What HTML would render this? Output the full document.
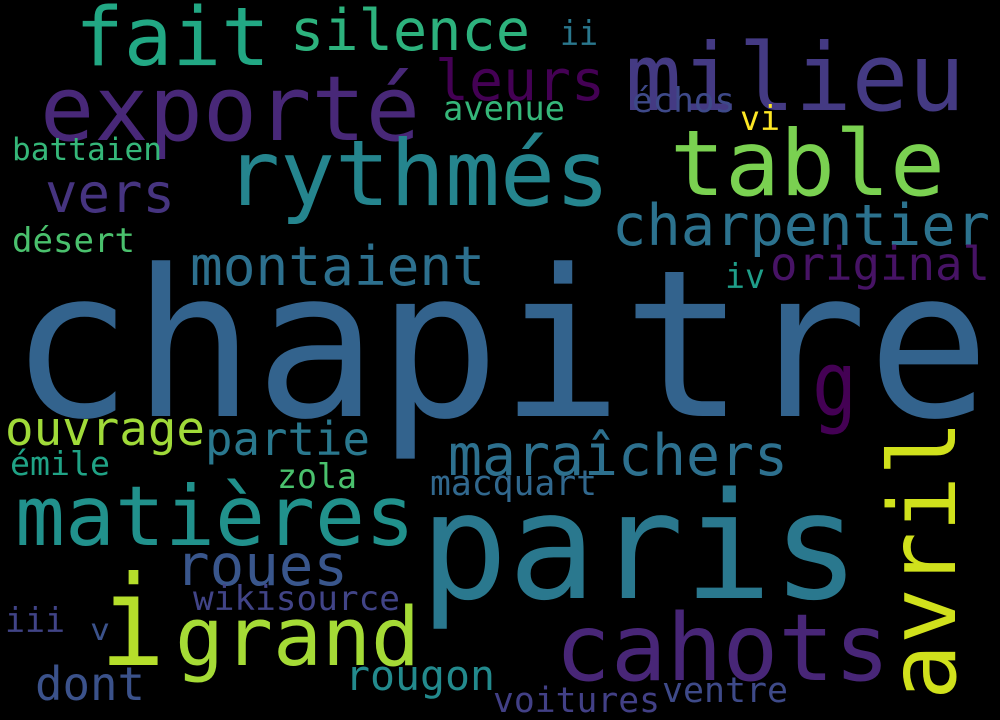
<!DOCTYPE html>
<html><head><meta charset="utf-8"><style>
html,body{margin:0;padding:0;background:#000;}
svg{display:block;}
text{font-family:"DejaVu Sans Mono","Liberation Mono",monospace;}
</style></head><body>
<svg id="cloud" width="1000" height="720" viewBox="0 0 1000 720">
<rect width="1000" height="720" fill="#000"/>
</svg>
<script>
const words = ["chapitre","paris","exporté","milieu","fait","silence","leurs","rythmés","table","vers","charpentier","montaient","original","désert","iv","vi","ii","avenue","échos","battaien","g","ouvrage","partie","maraîchers","émile","zola","matières","macquart","roues","wikisource","grand","i","cahots","iii","v","dont","rougon","voitures","ventre","avril"];
const xs = [10,420,40,625,75,290,435,225,670,45,612,190,770,12,725,740,560,443,632,12,812,5,205,448,10,277,15,430,175,193,175,100,555,5,90,35,345,493,662,955];
const ys = [416,598,140,110,65,50,100,205,195,212,245,285,280,252,288,130,45,120,112,160,415,445,455,475,475,488,545,495,585,610,665,665,680,632,640,700,690,712,702,700];
const sizes = [205,148,90,94,81,57,56,91,91,54,57,54,46,34,34,34,34,34,34,31,90,47,46,57,33,34,83,35,57,34,81,125,93,34,30,46,42,35,35,93];
const widths = [980,440,380,340,195,240,170,385,275,130,378,295,220,123,40,40,38,122,103,150,45,200,165,340,100,80,400,167,173,207,245,65,335,60,20,110,150,167,126,280];
const colors = ["#33638d","#2a788e","#482878","#443a83","#22a884","#2db27d","#440154","#25858e","#7ad151","#463480","#2c728e","#2d708e","#471365","#4ac16d","#1f9e89","#fde725","#2a788e","#35b779","#3e4989","#35b779","#440154","#a0da39","#2a788e","#2d708e","#20a386","#4ac16d","#21918c","#31688e","#39568c","#414487","#a5db36","#b5de2b","#482677","#414487","#3b528b","#3b528b","#238a8d","#424086","#3e4a89","#d0e11c"];
const rotated = [false,false,false,false,false,false,false,false,false,false,false,false,false,false,false,false,false,false,false,false,false,false,false,false,false,false,false,false,false,false,false,false,false,false,false,false,false,false,false,true];
const svg = document.getElementById('cloud');
words.forEach((w,i)=>{
  const t = document.createElementNS('http://www.w3.org/2000/svg','text');
  
  
  t.setAttribute('x', xs[i]);
  t.setAttribute('y', ys[i]);
  t.setAttribute('font-size', sizes[i]);
  t.setAttribute('fill', colors[i]);
  t.setAttribute('textLength', widths[i]);
  t.setAttribute('lengthAdjust', 'spacingAndGlyphs');
  if (rotated[i]) {
    t.setAttribute('x', 0); t.setAttribute('y', 0);
    t.setAttribute('transform', 'translate(' + xs[i] + ',' + ys[i] + ') rotate(-90)');
  }
  t.textContent = w;
  svg.appendChild(t);
});
</script>
</body></html>
